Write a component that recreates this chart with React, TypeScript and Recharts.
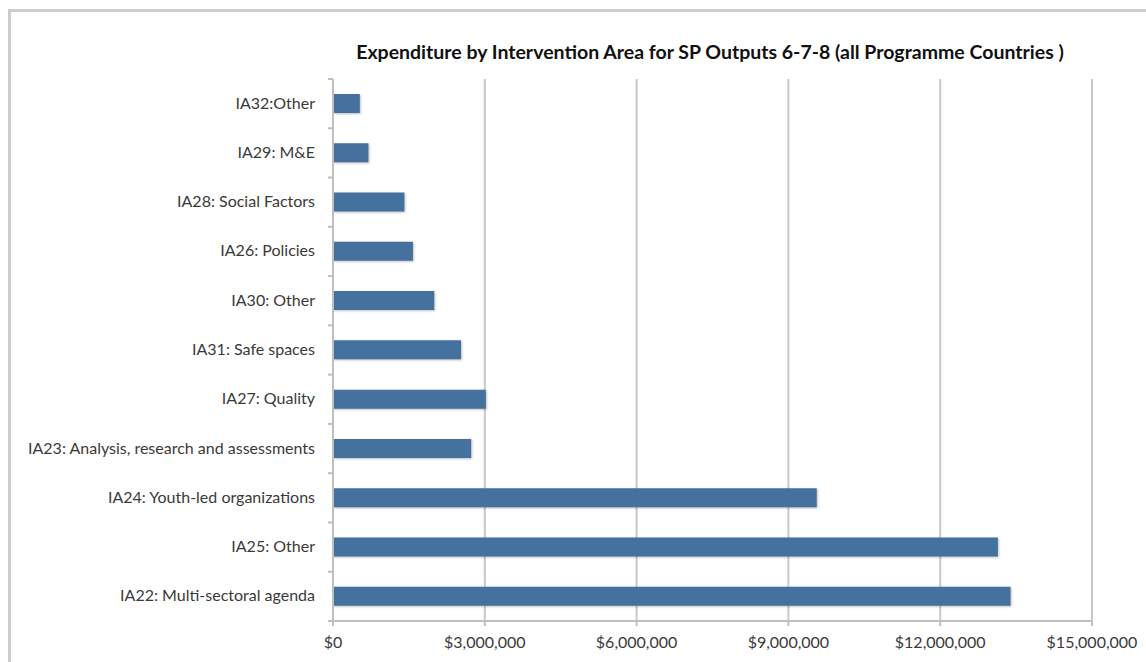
import React from 'react';
import { BarChart, Bar, XAxis, YAxis, CartesianGrid } from 'recharts';

const categories = [
  'IA32:Other',
  'IA29: M&E',
  'IA28: Social Factors',
  'IA26: Policies',
  'IA30: Other',
  'IA31: Safe spaces',
  'IA27: Quality',
  'IA23: Analysis, research and assessments',
  'IA24: Youth-led organizations',
  'IA25: Other',
  'IA22: Multi-sectoral agenda',
];
const expenditure = [530000, 700000, 1410000, 1580000, 2000000, 2530000, 3020000, 2730000, 9560000, 13140000, 13390000];
const xTicks = [0, 3000000, 6000000, 9000000, 12000000, 15000000];

const chartData = categories.map((name, i) => ({ name, value: expenditure[i] }));

const W = 1146;
const H = 662;
const TOP = 79;
const BOTTOM = 621;
const AXIS_X = 333;
const BAND = (BOTTOM - TOP) / categories.length;
const FONT = 'Lato, "Open Sans", sans-serif';

const fmtMoney = (v: number) => '$' + v.toLocaleString('en-US');

// category label + Excel-style tick mark on the band boundary
function CategoryTick(props: any) {
  const { x, y, payload, index } = props;
  return (
    <g>
      {index === 0 && (
        <line x1={AXIS_X - 5} x2={AXIS_X} y1={y - BAND / 2} y2={y - BAND / 2} stroke="#bfbfbf" strokeWidth={2} />
      )}
      <line x1={AXIS_X - 5} x2={AXIS_X} y1={y + BAND / 2} y2={y + BAND / 2} stroke="#bfbfbf" strokeWidth={2} />
      <text x={x} y={y} dy={5} textAnchor="end" fill="#3a3a3a" fontSize={16} fontFamily={FONT}>
        {payload.value}
      </text>
    </g>
  );
}

export default function App() {
  return (
    <div style={{ position: 'absolute', left: 0, top: 0, width: W, height: H, overflow: 'hidden', background: '#fff' }}>
      <div
        style={{
          position: 'absolute',
          left: 8,
          top: 9,
          width: W + 40,
          height: H + 40,
          borderTop: '3px solid #cdcdcd',
          borderLeft: '3px solid #cdcdcd',
          boxSizing: 'border-box',
        }}
      />
      <div
        style={{
          position: 'absolute',
          left: 410,
          top: 40,
          width: 600,
          whiteSpace: 'nowrap',
          display: 'flex',
          justifyContent: 'center',
          fontFamily: FONT,
          fontWeight: 700,
          fontSize: 19.5,
          lineHeight: '24px',
          color: '#111',
        }}
      >
        Expenditure by Intervention Area for SP Outputs 6-7-8 (all Programme Countries )
      </div>
      <div style={{ position: 'absolute', left: 0, top: 0 }}>
        <BarChart
          width={W}
          height={H}
          data={chartData}
          layout="vertical"
          margin={{ top: TOP, right: 54, bottom: H - BOTTOM - 30, left: 0 }}
        >
          <CartesianGrid horizontal={false} stroke="#c8c8c8" strokeWidth={2} />
          <XAxis
            type="number"
            domain={[0, 15000000]}
            ticks={xTicks}
            tickFormatter={fmtMoney}
            height={30}
            stroke="#bfbfbf"
            strokeWidth={2}
            tickSize={5}
            tickMargin={11}
            tick={{ fill: '#3a3a3a', fontSize: 16, fontFamily: FONT }}
            interval={0}
          />
          <YAxis
            type="category"
            dataKey="name"
            width={AXIS_X}
            stroke="#bfbfbf"
            strokeWidth={2}
            tickLine={false}
            tickSize={0}
            tickMargin={18}
            tick={<CategoryTick />}
            interval={0}
          />
          <Bar
            dataKey="value"
            fill="#45719f"
            barSize={19}
            isAnimationActive={false}
            style={{ filter: 'drop-shadow(1px 1.5px 1px rgba(0,0,0,0.25))' }}
          />
        </BarChart>
      </div>
    </div>
  );
}
